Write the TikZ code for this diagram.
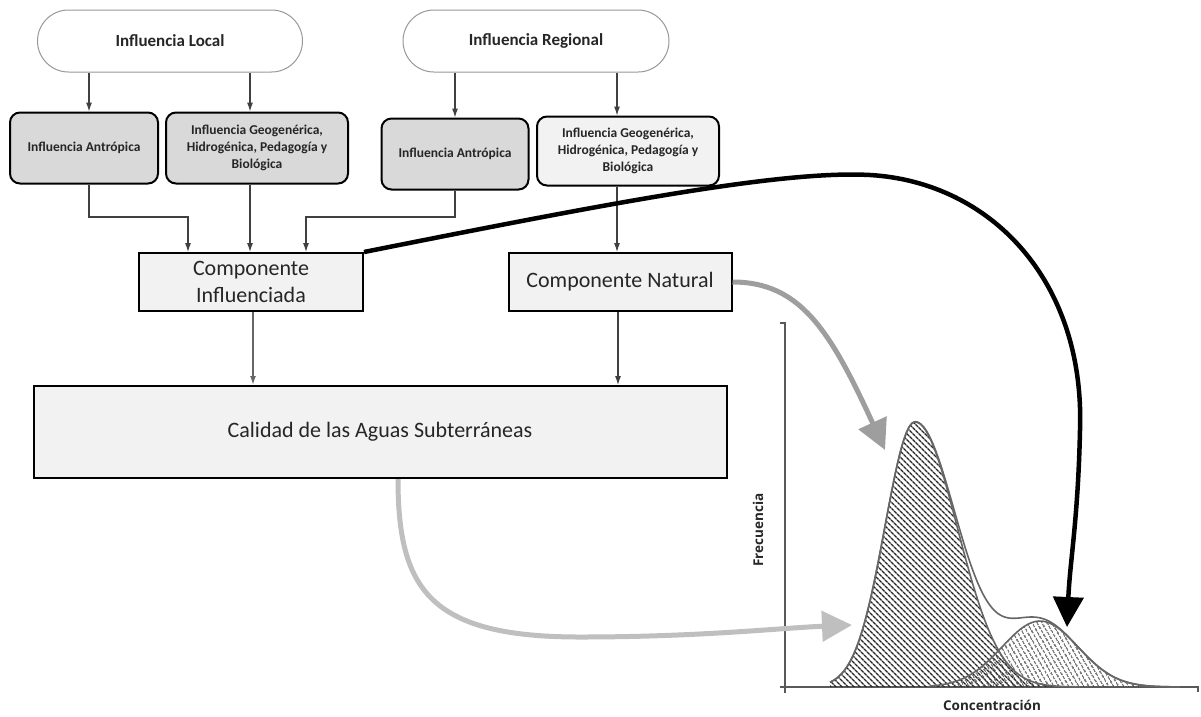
\documentclass[tikz,border=0pt]{standalone}
\usepackage{fontspec}
\setmainfont{Carlito}
\newfontfamily\axisfont{Open Sans}
\usepackage{tikz}
\usetikzlibrary{arrows.meta,patterns.meta,calc}

\begin{document}
\begin{tikzpicture}[x=1pt,y=-1pt,
	every node/.style={text=black!85},
	cloud/.style={draw=black!40,line width=1pt,fill=white,rounded corners=31pt,minimum width=265pt,minimum height=62pt,font=\fontsize{17}{20}\selectfont\bfseries},
	infl/.style={draw=black,line width=2pt,rounded corners=10pt,fill=black!15,minimum height=71pt,align=center,font=\fontsize{13.5}{17}\selectfont\bfseries},
	comp/.style={draw=black,line width=2pt,fill=black!5,minimum height=58pt,align=center,font=\fontsize{22}{27}\selectfont},
	arr/.style={-{Latex[length=9pt,width=6pt]},line width=1.1pt,draw=black!75},
	big/.style={line width=5pt,-{Triangle[length=30pt,width=30pt]}},
	axis/.style={draw=black!65,line width=1.3pt},
	dist/.style={draw=black!60,line width=1.6pt},
	lbl/.style={font={\axisfont\fontsize{13.5}{16}\selectfont\bfseries}},
	declare function={pa(\x)=265*exp(max(-9,-((\x-915)/10)^2/(2*(((\x<915)?3:4.2)^2))));
		pb(\x)=66*exp(max(-9,-((\x-1040)/10)^2/(2*3.8^2)));}]
			\useasboundingbox (0,0) rectangle (1201,716);
			
			\node[cloud] (il) at (170,41) {Influencia Local};
			\node[cloud,minimum width=266pt] (ir) at (536,41) {Influencia Regional};
			\node[infl,minimum width=148pt] (al) at (84,148) {Influencia Antrópica};
			\node[infl,minimum width=182pt] (gl) at (257,148) {Influencia Geogenérica,\\Hidrogénica, Pedagogía y\\Biológica};
			\node[infl,minimum width=147pt] (ar) at (455,154) {Influencia Antrópica};
			\node[infl,minimum width=182pt,minimum height=69pt,fill=black!5] (gr) at (628,151) {Influencia Geogenérica,\\Hidrogénica, Pedagogía y\\Biológica};
			\node[comp,minimum width=224pt] (ci) at (251,282) {Componente\\Influenciada};
			\node[comp,minimum width=223pt] (cn) at (620,282) {Componente Natural};
			\node[comp,minimum width=693pt,minimum height=92pt] (ca) at (380,432) {Calidad de las Aguas Subterráneas};
			\coordinate (jl) at (188,217);
			\coordinate (jr) at (306,217);
			
			\draw[arr] ([xshift=5pt]al.north |- il.south) -- ([xshift=5pt]al.north);
			\draw[arr] ([xshift=-7pt]gl.north |- il.south) -- ([xshift=-7pt]gl.north);
			\draw[arr] (ar.north |- ir.south) -- (ar.north);
			\draw[arr] ([xshift=-11pt]gr.north |- ir.south) -- ([xshift=-11pt]gr.north);
			\draw[arr] ([xshift=5pt]al.south) |- (jl) -- (jl |- ci.north);
			\draw[arr] ([xshift=-7pt]gl.south) -- ([xshift=-7pt]gl.south |- ci.north);
			\draw[arr] (ar.south) |- (jr) -- (jr |- ci.north);
			\draw[arr] ([xshift=-11pt]gr.south) -- ([xshift=-11pt]gr.south |- cn.north);
			\draw[arr,line width=1.6pt,draw=black!60] ([xshift=2pt]ci.south) -- ([xshift=2pt]ci.south |- ca.north);
			\draw[arr] ([xshift=-2pt]cn.south) -- ([xshift=-2pt]cn.south |- ca.north);
			
			% graph
			\draw[axis] (780,323) -- (785,323) -- (785,693);
			\draw[axis] (780,687) -- (1198,687) -- (1198,692);
			\node[lbl,rotate=90] (fr) at (758,530) {Frecuencia};
			\node[lbl] (co) at (992,705) {Concentración};
			\fill[pattern={Lines[angle=-45,distance=4pt,line width=1.4pt]},pattern color=black!85] (830,687) -- plot[domain=830:1080,samples=90] (\x,{687-pa(\x)}) -- (1080,687) -- cycle;
			\fill[pattern={Lines[angle=-60,distance=4pt,line width=1.3pt]},pattern color=black!80] (930,687) -- plot[domain=930:1180,samples=70] (\x,{687-pb(\x)}) -- (1180,687) -- cycle;
			\draw[dist] plot[domain=830:1080,samples=90] (\x,{687-pa(\x)});
			\draw[dist] plot[domain=930:1180,samples=70] (\x,{687-pb(\x)});
			\draw[dist] plot[domain=830:1180,samples=120] (\x,{687-pa(\x)-pb(\x)});
			
			% big arrows
			\draw[big,color=black!38] (cn.east) .. controls (800,282) and (830,330) .. (885,450);
			\draw[big,color=black!25] ([xshift=18pt]ca.south) .. controls (398,590) and (430,637) .. (580,637) .. controls (700,637) and (780,628) .. (852,625);
			\draw[big,line width=4.5pt,color=black] (ci.north east) .. controls (600,205) and (780,170) .. (870,175) .. controls (990,182) and (1085,280) .. (1080,430) .. controls (1078,520) and (1070,560) .. (1067,627);
\end{tikzpicture}
\end{document}
